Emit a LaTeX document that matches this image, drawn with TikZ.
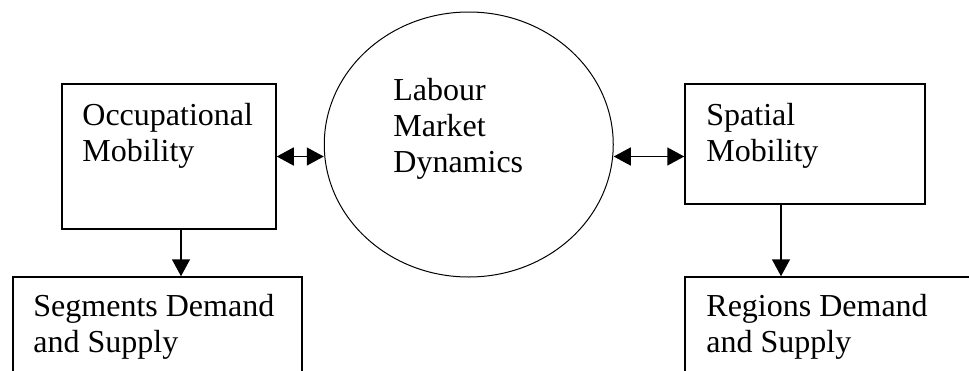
\documentclass[tikz,border=0pt]{standalone}
\usepackage{fontspec}
\setmainfont{Liberation Serif}
\usetikzlibrary{shapes.geometric,arrows.meta}

\tikzset{
  block/.style={draw, rectangle, line width=0.75pt, inner sep=0pt},
  blocktext/.style={anchor=north west, inner sep=0pt, align=left,
    font=\fontsize{16}{18}\selectfont},
  link/.style={line width=0.75pt},
}

\begin{document}
\begin{tikzpicture}[x=0.5pt,y=-0.5pt,>={Triangle[length=8.5pt,width=9pt]}]
    % page frame
    \useasboundingbox (0,0) rectangle (969,370);
    \clip (0,0) rectangle (969,370);

    % draw boxes
    \node[block, minimum width=107pt, minimum height=72.5pt] (occ) at (169,156.5) {};
    \node[block, minimum width=120pt, minimum height=60pt] (spa) at (805,144) {};
    \node[block, minimum width=144.5pt, minimum height=71.5pt] (seg) at (157.5,348.5) {};
    \node[block, minimum width=157.5pt, minimum height=71.5pt] (reg) at (842.5,348.5) {};

    % draw ellipse
    \node[draw, ellipse, line width=0.5pt, inner sep=0pt,
      minimum width=144.5pt, minimum height=132.5pt] (lmd) at (468.75,144.5) {};

    % draw texts
    \node[blocktext] (occtext) at (82,103) {Occupational\\Mobility};
    \node[blocktext] (lmdtext) at (393,78) {Labour\\Market\\Dynamics};
    \node[blocktext] (spatext) at (706,103) {Spatial\\Mobility};
    \node[blocktext] (segtext) at (33,294) {Segments Demand\\and Supply};
    \node[blocktext] (regtext) at (706,294) {Regions Demand\\and Supply};

    % draw arrows
    \draw[link,<->] (occ.east) -- (occ.east -| lmd.west);
    \draw[link,<->] (occ.east -| lmd.east) -- (occ.east -| spa.west);
    \draw[link,->] ([xshift=6pt]occ.south) -- ([xshift=6pt]occ.south |- seg.north);
    \draw[link,->] ([xshift=-12pt]spa.south) -- ([xshift=-12pt]spa.south |- reg.north);

  \end{tikzpicture}
\end{document}
